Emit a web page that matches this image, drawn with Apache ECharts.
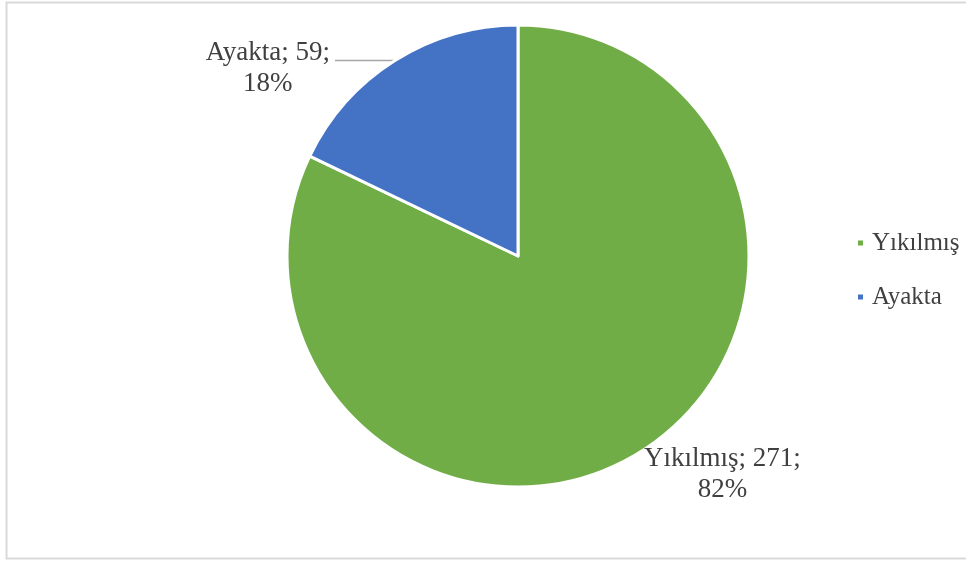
<!DOCTYPE html>
<html>
<head>
<meta charset="utf-8">
<script src="https://cdn.jsdelivr.net/npm/echarts@6/dist/echarts.min.js"></script>
<style>
    html, body { margin: 0; padding: 0; background: #fff; }
    #chart { width: 966px; height: 561px; }
</style>
</head>
<body>
<div id="chart"></div>
<script>
// data
let names = ['Yıkılmış', 'Ayakta']
let values = [271, 59]
let colors = ['#70AD47', '#4472C4']

let serif = "'Liberation Serif', 'Times New Roman', serif"
let myChart = echarts.init(document.getElementById('chart'))
let option = {
    animation: false,
    backgroundColor: '#fff',
    textStyle: { fontFamily: serif },
    graphic: [{
        type: 'rect',
        shape: { x: 6.5, y: 2.5, width: 970, height: 556 },
        style: { fill: 'none', stroke: '#d9d9d9', lineWidth: 2 }
    }],
    legend: {
        orient: 'vertical',
        left: 851,
        top: 225,
        itemWidth: 7,
        itemHeight: 7,
        itemGap: 28,
        icon: 'rect',
        data: names,
        textStyle: { fontFamily: serif, fontSize: 25, lineHeight: 26, color: '#404040', padding: [0, 0, 0, 3] }
    },
    series: [
        {
            type: 'pie',
            center: [518, 256],
            radius: 231,
            startAngle: 90,
            clockwise: true,
            itemStyle: { borderColor: '#fff', borderWidth: 3 },
            label: {
                show: true,
                position: 'outside',
                formatter: p => '{c|' + p.name + '; ' + p.value + ';}\n{c|' + Math.round(p.percent) + '%}',
                rich: {
                    c: { align: 'center', fontFamily: serif, fontSize: 27, lineHeight: 31, color: '#404040' }
                }
            },
            labelLine: {
                show: true,
                length: 0,
                length2: 60,
                lineStyle: { color: '#a6a6a6', width: 1.5 }
            },
            labelLayout: function (params) {
                if (params.dataIndex === 0) {
                    return { dx: -2, dy: 23, hideOverlap: false }
                }
                return { dy: 8 }
            },
            data: names.map((n, i) => ({
                name: n,
                value: values[i],
                itemStyle: { color: colors[i] },
                labelLine: i === 0 ? { show: false, length: 0, length2: 0 } : undefined
            }))
        }
    ]
}
myChart.setOption(option)
</script>
</body>
</html>
